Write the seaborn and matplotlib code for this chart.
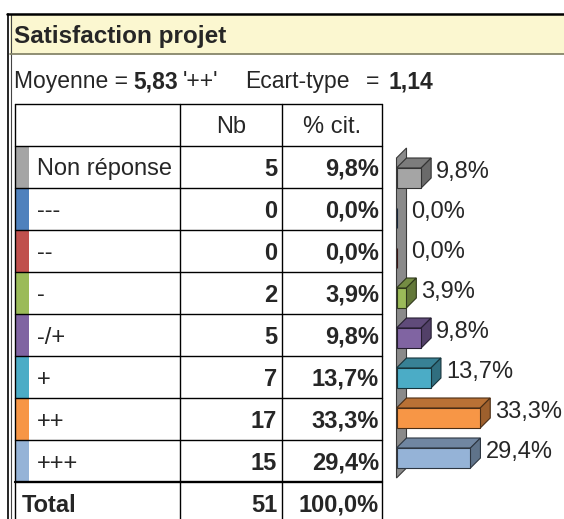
import matplotlib
matplotlib.use("Agg")
import matplotlib.pyplot as plt
import seaborn as sns
import pandas as pd
from matplotlib.patches import Polygon, Rectangle
from matplotlib.colors import to_rgb

# ---- data -------------------------------------------------------------
categories = ["Non réponse", "---", "--", "-", "-/+", "+", "++", "+++"]
counts = [5, 0, 0, 2, 5, 7, 17, 15]
percents = [9.8, 0.0, 0.0, 3.9, 9.8, 13.7, 33.3, 29.4]
colors = ["#A5A5A5", "#4F81BD", "#C0504D", "#9BBB59",
          "#8064A2", "#4BACC6", "#F79646", "#95B3D7"]
total_count = 51
total_percent = 100.0
headers = ["Nb", "% cit."]
title = "Satisfaction projet"
mean_value = 5.83
mean_label = "'++'"
std_value = 1.14


def fr(v, nd=1):
    return f"{v:.{nd}f}".replace(".", ",")


def shade(c, f):
    r, g, b = to_rgb(c)
    return (r * f, g * f, b * f)


# ---- figure -----------------------------------------------------------
sns.set_theme(style="white")
plt.rcParams["font.family"] = ["Liberation Sans", "DejaVu Sans"]

W, H = 564, 519
fig = plt.figure(figsize=(W / 100, H / 100), dpi=100)
fig.patch.set_facecolor("white")

# pixel-space layer for the frame, header and table
bg = fig.add_axes([0, 0, 1, 1])
bg.set_xlim(0, W)
bg.set_ylim(H, 0)
bg.set_axis_off()

# outer frame and title band
bg.add_patch(Rectangle((10, 15), W - 10, 38.5, facecolor="#FBF7D0",
                       edgecolor="none", zorder=1))
bg.plot([7.5, 7.5], [14, H], color="black", lw=1.2, zorder=3)
bg.plot([10.5, 10.5], [14, H], color="#444444", lw=0.8, zorder=3)
bg.plot([7, W], [14, 14], color="black", lw=1.8, zorder=3)
bg.plot([10, W], [53.5, 53.5], color="#86866A", lw=1.3, zorder=3)

bg.text(14, 43.5, title, fontsize=17.5, fontweight="bold", va="baseline",
        ha="left", zorder=4)

fs = 16.5
bg.text(14, 88, "Moyenne =", fontsize=fs, va="baseline", ha="left")
bg.text(133, 88, fr(mean_value, 2), fontsize=fs, fontweight="bold",
        va="baseline", ha="left")
bg.text(183, 88, mean_label, fontsize=fs, va="baseline", ha="left")
bg.text(245, 88, "Ecart-type", fontsize=fs, va="baseline", ha="left")
bg.text(366, 88, "=", fontsize=fs, va="baseline", ha="left")
bg.text(388, 88, fr(std_value, 2), fontsize=fs, fontweight="bold",
        va="baseline", ha="left")

# ---- table ------------------------------------------------------------
x_left, x_nb, x_pct, x_right = 15, 180, 282, 382
y_head = 104
row_top = 146
row_h = 42
n = len(categories)
y_total = row_top + n * row_h

tfs = 17
for i, (cat, cnt, pct, col) in enumerate(zip(categories, counts, percents, colors)):
    top = row_top + i * row_h
    bg.add_patch(Rectangle((x_left, top), 14, row_h, facecolor=col,
                           edgecolor="none", zorder=2))
    base = top + 29.5
    bg.text(37, base, cat, fontsize=tfs, va="baseline", ha="left")
    bg.text(277, base, str(cnt), fontsize=tfs, fontweight="bold",
            va="baseline", ha="right")
    bg.text(379, base, fr(pct) + "%", fontsize=tfs, fontweight="bold",
            va="baseline", ha="right")

bg.text((x_nb + x_pct) / 2, 133, headers[0], fontsize=tfs, va="baseline",
        ha="center")
bg.text((x_pct + x_right) / 2, 133, headers[1], fontsize=tfs,
        va="baseline", ha="center")

bg.text(22, 511.5, "Total", fontsize=tfs, fontweight="bold",
        va="baseline", ha="left")
bg.text(277, 511.5, str(total_count), fontsize=tfs, fontweight="bold",
        va="baseline", ha="right")
bg.text(379, 511.5, fr(total_percent) + "%", fontsize=tfs,
        fontweight="bold", va="baseline", ha="right")

# grid lines
for k in range(n):
    y = y_head if k == 0 else row_top + k * row_h
    bg.plot([x_left, x_right], [y, y], color="black", lw=1.0, zorder=3)
bg.plot([x_left, x_right], [row_top, row_top], color="black", lw=1.0, zorder=3)
bg.plot([x_left, x_right], [y_total, y_total], color="black", lw=1.7, zorder=3)
for x in (x_left, x_nb, x_pct, x_right):
    bg.plot([x, x], [y_head, H], color="black", lw=1.0, zorder=3)

# ---- 3D bars ----------------------------------------------------------
px_per_pct = 2.515
bar_left = 396.5
axb = fig.add_axes([bar_left / W, (H - 478) / H, (W - bar_left) / W, 320 / H])
axb.patch.set_alpha(0)

df = pd.DataFrame({"cat": categories, "pct": percents})
sns.barplot(data=df, x="pct", y="cat", hue="cat", palette=colors,
            legend=False, orient="h", width=0.5, saturation=1,
            errorbar=None, ax=axb, zorder=3)
axb.set_xlim(0, (W - bar_left) / px_per_pct)
axb.set_ylim(n - 0.5, -0.5)
axb.set_axis_off()

# depth of the 3D extrusion: 10 px right, 10 px up
o = axb.transData.transform((0, 0))
p = axb.transData.transform((1, 1))
dx = 10 / (p[0] - o[0])
dy = 10 / (p[1] - o[1])

# back wall
axb.add_patch(Polygon([(0, -0.5), (dx, -0.5 + dy), (dx, n - 0.5 + dy),
                       (0, n - 0.5)], closed=True, facecolor="#8A8A8A",
                      edgecolor="#3A3A3A", lw=0.8, zorder=1, clip_on=False))

for bar in list(axb.patches):
    if not isinstance(bar, Rectangle):
        continue
    x0, y0 = bar.get_x(), bar.get_y()
    w, h = bar.get_width(), bar.get_height()
    idx = int(round(y0 + h / 2))
    if idx < 0 or idx >= n:
        continue
    col = colors[idx]
    bar.set_facecolor(col)
    bar.set_edgecolor(shade(col, 0.3))
    bar.set_linewidth(0.8)
    bar.set_clip_on(False)
    if w <= 0:
        continue
    top = [(x0, y0), (x0 + w, y0), (x0 + w + dx, y0 + dy), (x0 + dx, y0 + dy)]
    side = [(x0 + w, y0), (x0 + w + dx, y0 + dy),
            (x0 + w + dx, y0 + h + dy), (x0 + w, y0 + h)]
    axb.add_patch(Polygon(top, closed=True, facecolor=shade(col, 0.75),
                          edgecolor=shade(col, 0.3), lw=0.8, zorder=2,
                          clip_on=False))
    axb.add_patch(Polygon(side, closed=True, facecolor=shade(col, 0.64),
                          edgecolor=shade(col, 0.3), lw=0.8, zorder=2,
                          clip_on=False))

for i, v in enumerate(percents):
    axb.annotate(fr(v) + "%", xy=(v, i), xytext=(15, 0),
                 textcoords="offset pixels", ha="left", va="baseline",
                 fontsize=17, annotation_clip=False, zorder=5)

fig.savefig("out.png", dpi=100)
